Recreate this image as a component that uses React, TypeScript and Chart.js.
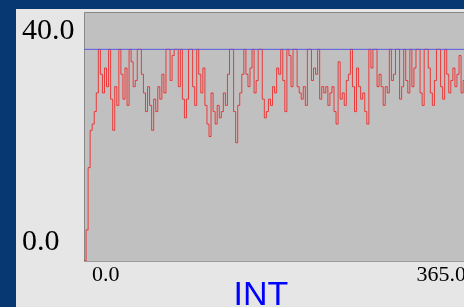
import { useEffect, useRef } from 'react';
import { Chart, registerables } from 'chart.js';

Chart.register(...registerables);

// x spacing of the samples (days)
const DAY_STEP = 2;
// INT series, one value every DAY_STEP days
const intValues = [
  0, 5, 15, 21, 22, 24, 27, 34, 30, 27, 31, 28, 34, 26, 21, 28, 25, 34, 30, 26,
  31, 25, 34, 32, 28, 29, 34, 34, 30, 27, 24, 28, 25, 21, 26, 24, 28, 26, 30, 27,
  34, 34, 29, 33, 34, 34, 28, 34, 26, 23, 26, 34, 34, 28, 25, 34, 30, 27, 31, 25,
  22, 20, 27, 24, 22, 25, 23, 24, 27, 25, 30, 34, 34, 24, 19, 25, 27, 30, 34, 30,
  28, 31, 34, 27, 29, 34, 34, 26, 23, 24, 26, 25, 28, 27, 31, 30, 34, 29, 24, 34,
  33, 28, 34, 34, 28, 27, 26, 28, 25, 34, 34, 29, 31, 30, 34, 26, 28, 27, 28, 25,
  27, 28, 24, 22, 32, 26, 27, 25, 29, 30, 34, 28, 24, 31, 28, 26, 27, 24, 22, 34,
  31, 34, 34, 28, 30, 28, 25, 28, 27, 34, 29, 30, 34, 34, 26, 28, 34, 29, 27, 34,
  28, 31, 34, 34, 27, 25, 34, 34, 31, 27, 25, 29, 34, 34, 28, 26, 34, 30, 27, 29,
  31, 28, 30, 33, 27, 29, 31,
];
const capValue = 34;
const xTickValues = [0, 365];
const yTickValues = [0, 40];
const xMin = 0;
const xMax = 406;
const yMin = 0;
const yMax = 40;
const axisTitle = 'INT';

export default function App() {
  const ref = useRef<HTMLCanvasElement>(null);

  useEffect(() => {
    const canvas = ref.current;
    if (!canvas) return;

    const plotBg = {
      id: 'plotBg',
      beforeDatasetsDraw(chart: any) {
        const { ctx, chartArea: a } = chart;
        ctx.save();
        ctx.fillStyle = '#c0c0c0';
        ctx.fillRect(a.left, a.top, a.right - a.left, a.bottom - a.top);
        ctx.lineWidth = 1;
        ctx.strokeStyle = '#888888';
        ctx.beginPath();
        ctx.moveTo(a.right, a.top + 0.5);
        ctx.lineTo(a.left + 0.5, a.top + 0.5);
        ctx.lineTo(a.left + 0.5, a.bottom + 0.5);
        ctx.stroke();
        ctx.strokeStyle = '#9a9a9a';
        ctx.beginPath();
        ctx.moveTo(a.left, a.bottom + 0.5);
        ctx.lineTo(a.right, a.bottom + 0.5);
        ctx.stroke();
        ctx.restore();
      },
    };

    const points = intValues.map((v, i) => ({ x: i * DAY_STEP, y: v }));
    const capPoints = [
      { x: xMin, y: capValue },
      { x: xMax, y: capValue },
    ];

    const chart = new Chart(canvas, {
      type: 'line',
      data: {
        datasets: [
          {
            data: points,
            borderColor: 'rgba(255,0,0,0.7)',
            borderWidth: 1,
            pointRadius: 0,
            stepped: 'before',
            fill: false,
            segment: {
              borderColor: (ctx: any) =>
                ctx.p0DataIndex % 2 ? 'rgba(255,0,0,0.7)' : 'rgba(254,0,0,0.7)',
            },
            order: 2,
          },
          {
            data: capPoints,
            borderColor: '#5a5ae0',
            borderWidth: 1,
            pointRadius: 0,
            fill: false,
            order: 1,
          },
        ],
      },
      options: {
        responsive: false,
        animation: false,
        devicePixelRatio: 1,
        parsing: false,
        layout: { padding: { left: 6, top: 3, right: 6, bottom: 0 } },
        plugins: {
          legend: { display: false },
          tooltip: { enabled: false },
          title: {
            display: true,
            text: axisTitle,
            position: 'bottom',
            color: '#0000ff',
            font: { family: 'Liberation Sans', size: 34, weight: 'normal', lineHeight: '22px' },
            padding: 0,
          },
        },
        scales: {
          x: {
            type: 'linear',
            min: xMin,
            max: xMax,
            afterBuildTicks: (s: any) => {
              s.ticks = xTickValues.map((v) => ({ value: v }));
            },
            afterFit: (s: any) => {
              s.height = 24;
              s.paddingLeft = 0;
              s.paddingRight = 0;
            },
            ticks: {
              align: 'inner',
              labelOffset: 8,
              padding: 1,
              autoSkip: false,
              maxRotation: 0,
              color: '#000000',
              font: { family: 'Liberation Serif', size: 22 },
              callback: (v: any) => Number(v).toFixed(1),
            },
            grid: { display: false, drawTicks: false },
            border: { display: false },
          },
          y: {
            type: 'linear',
            min: yMin,
            max: yMax,
            afterBuildTicks: (s: any) => {
              s.ticks = yTickValues.map((v) => ({ value: v }));
            },
            afterFit: (s: any) => {
              s.width = 62;
              s.paddingTop = 0;
              s.paddingBottom = 0;
            },
            ticks: {
              crossAlign: 'far',
              padding: 0,
              color: '#000000',
              font: { family: 'Liberation Serif', size: 30, lineHeight: '38px' },
              callback: (v: any) => {
                const t = Number(v).toFixed(1);
                return Number(v) === yMax ? ['', t] : [t, ''];
              },
            },
            grid: { display: false, drawTicks: false },
            border: { display: false },
          },
        },
      },
      plugins: [plotBg],
    } as any);

    return () => chart.destroy();
  }, []);

  return (
    <div
      style={{
        position: 'fixed',
        left: 0,
        top: 0,
        width: 464,
        height: 307,
        overflow: 'hidden',
        background: '#083872',
      }}
    >
      <div
        style={{
          position: 'absolute',
          left: 16,
          top: 9,
          width: 490,
          height: 300,
          background: '#e6e6e6',
        }}
      >
        <canvas ref={ref} width={490} height={298} style={{ display: 'block' }} />
      </div>
    </div>
  );
}
